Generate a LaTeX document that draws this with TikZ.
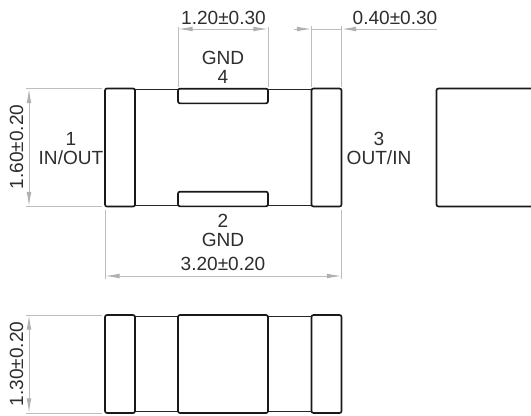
\documentclass[tikz,border=0pt]{standalone}
\usepackage{fontspec}
\setmainfont{Liberation Sans}
\usetikzlibrary{arrows.meta,calc}
\definecolor{dimgray}{HTML}{BDBDBD}
\definecolor{arrowgray}{HTML}{B0B0B0}
\definecolor{labelgray}{HTML}{2E2E2E}
\tikzset{
  padbox/.style={draw=black!90,line width=1.25pt,rounded corners=1.5pt,inner sep=0pt,outer sep=0pt,fill=white},
  bodyline/.style={draw=black!85,line width=1pt},
  extline/.style={draw=dimgray,line width=0.75pt},
  dimline/.style={draw=dimgray,line width=0.75pt,{Latex[length=11pt,width=3.6pt,color=arrowgray]}-{Latex[length=11pt,width=3.6pt,color=arrowgray]}},
  leftdim/.style={draw=dimgray,line width=0.75pt,-{Latex[length=11pt,width=3.6pt,color=arrowgray]}},
  lbl/.style={text=labelgray,font=\fontsize{14.3pt}{15pt}\selectfont,inner sep=0pt,align=center},
}
\begin{document}
\begin{tikzpicture}[x=0.75pt,y=-0.75pt]
\useasboundingbox (0,0) rectangle (531,415);
% top view
\draw[bodyline] (135,89.5) -- (312,89.5);
\draw[bodyline] (135,205.5) -- (312,205.5);
\node[padbox,minimum width=22.5pt,minimum height=88.5pt] (padL) at (120,147.5) {};
\node[padbox,minimum width=22.5pt,minimum height=88.5pt] (padR) at (326.5,147.5) {};
\node[padbox,minimum width=67.5pt,minimum height=11pt] (padT) at (223,96) {};
\node[padbox,minimum width=67.5pt,minimum height=11pt] (padB) at (223,199) {};
% right view (runs off the right edge)
\coordinate (rtTop) at (531,88.5);
\coordinate (rtBot) at (531,206.5);
\draw[padbox,fill=none] (rtTop) -- (436.5,88.5) -- (436.5,206.5) -- (rtBot);
% bottom view
\draw[bodyline] (135,316.7) -- (312,316.7);
\draw[bodyline] (135,411.7) -- (312,411.7);
\node[padbox,minimum width=22.5pt,minimum height=73.5pt] (lowL) at (120,364) {};
\node[padbox,minimum width=22.5pt,minimum height=73.5pt] (lowR) at (326.5,364) {};
\node[padbox,minimum width=67.5pt,minimum height=73.5pt] (lowC) at (223,364) {};
% 1.20 dimension
\coordinate (d12a) at (padT.north west|-0,29);
\coordinate (d12b) at (padT.north east|-0,29);
\draw[extline] ($(padT.north west)+(0,-2)$) -- ($(d12a)+(0,-2)$);
\draw[extline] ($(padT.north east)+(0,-2)$) -- ($(d12b)+(0,-2)$);
\draw[dimline] (d12a) -- (d12b);
% 0.40 dimension
\coordinate (d04a) at (padR.north west|-0,29);
\coordinate (d04b) at (padR.north east|-0,29);
\coordinate (d04s) at (294,29);
\coordinate (d04e) at (437,29);
\draw[extline] ($(padR.north west)+(0,-2)$) -- ($(d04a)+(0,-3)$);
\draw[extline] ($(padR.north east)+(0,-2)$) -- ($(d04b)+(0,-3)$);
\draw[leftdim] (d04s) -- (d04a);
\draw[leftdim] (d04e) -- (d04b);
\draw[extline] (d04a) -- (d04b);
% 1.60 dimension
\coordinate (d16a) at (29,0|-padL.north west);
\coordinate (d16b) at (29,0|-padL.south west);
\draw[extline] ($(padL.north west)+(-3,0)$) -- ($(d16a)+(-3,0)$);
\draw[extline] ($(padL.south west)+(-3,0)$) -- ($(d16b)+(-3,0)$);
\draw[dimline] (d16a) -- (d16b);
% 3.20 dimension
\coordinate (d32a) at (padL.south west|-0,276);
\coordinate (d32b) at (padR.south east|-0,276);
\draw[extline] ($(padL.south west)+(0,3)$) -- ($(d32a)+(0,3)$);
\draw[extline] ($(padR.south east)+(0,3)$) -- ($(d32b)+(0,3)$);
\draw[dimline] (d32a) -- (d32b);
% 1.30 dimension
\coordinate (d13a) at (29,0|-lowL.north west);
\coordinate (d13b) at (29,0|-lowL.south west);
\draw[extline] ($(lowL.north west)+(-3,0)$) -- ($(d13a)+(-3,0)$);
\draw[extline] ($(lowL.south west)+(-3,0)$) -- ($(d13b)+(-3,0)$);
\draw[dimline] (d13a) -- (d13b);
% labels
\node[lbl] (t12) at (223.5,18) {1.20±0.30};
\node[lbl] (t04) at (395,18) {0.40±0.30};
\node[lbl] (tgnd4) at (223,58) {GND};
\node[lbl] (t4) at (223,77) {4};
\node[lbl] (t1) at (71,139) {1};
\node[lbl] (tin) at (71,158) {IN/OUT};
\node[lbl] (t3) at (379,139) {3};
\node[lbl] (tout) at (379,158) {OUT/IN};
\node[lbl] (t2) at (223,221) {2};
\node[lbl] (tgnd2) at (223,240) {GND};
\node[lbl] (t32) at (223,264) {3.20±0.20};
\node[lbl,rotate=90] (t16) at (16.5,147) {1.60±0.20};
\node[lbl,rotate=90] (t13) at (16.5,364) {1.30±0.20};
\end{tikzpicture}
\end{document}
